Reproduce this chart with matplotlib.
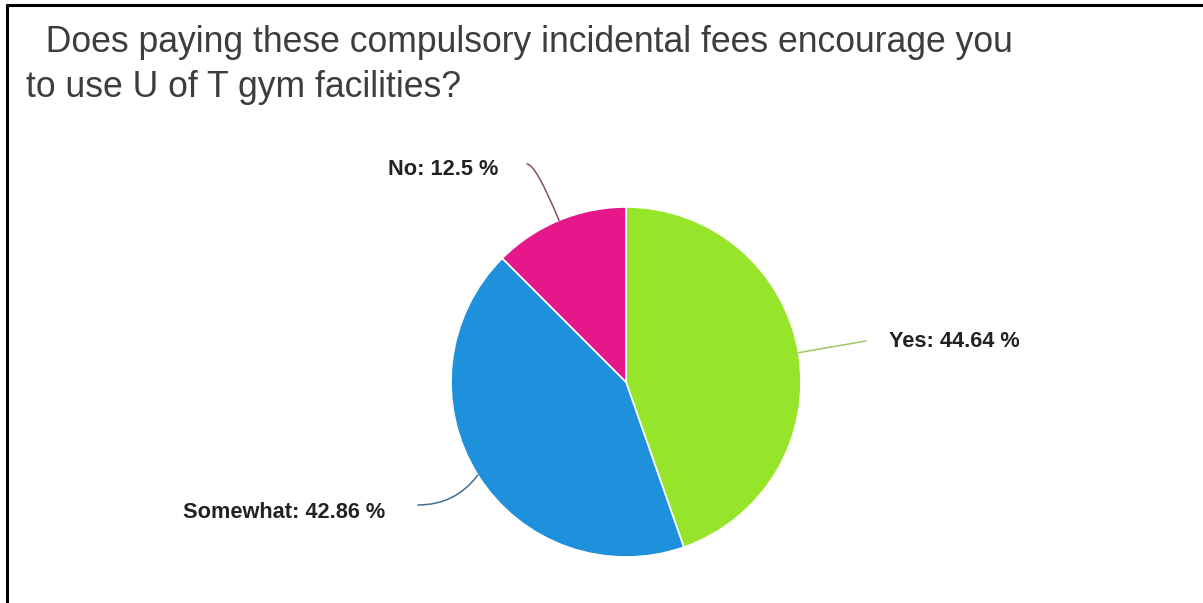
import numpy as np
import matplotlib
matplotlib.use("Agg")
from matplotlib import pyplot as plt

# Survey answers (percent of respondents)
answers = ["Yes", "Somewhat", "No"]
shares = [44.64, 42.86, 12.5]
slice_colors = ["#97e52b", "#1e90dc", "#e6178a"]
line_colors = ["#a3c464", "#3f6f93", "#8e4a6e"]

title_lines = ["  Does paying these compulsory incidental fees encourage you",
               "to use U of T gym facilities?"]

W, H = 1203, 603
fig = plt.figure(figsize=(W / 100, H / 100), dpi=100)
fig.patch.set_facecolor("white")
ax = fig.add_axes([0, 0, 1, 1])
ax.set_xlim(0, W)
ax.set_ylim(0, H)
ax.axis("off")

# pie, starting at 12 o'clock and going clockwise
cx, cy, r = 626, H - 382, 175
wedges, _ = ax.pie(shares, colors=slice_colors, startangle=90, counterclock=False,
                   center=(cx, cy), radius=r,
                   wedgeprops=dict(edgecolor="white", linewidth=1.2))
ax.set_xlim(0, W)
ax.set_ylim(0, H)

# leader line end (relative to pie centre), connection style and label placement
line_ends = [(240, 41), (-208, -123), (-99, 218)]
label_offsets = [(263, 35), (-241, -136), (-128, 207)]
label_ha = ["left", "right", "right"]

for w, name, val, lc, le, lo, ha in zip(wedges, answers, shares, line_colors,
                                         line_ends, label_offsets, label_ha):
    mid_deg = (w.theta1 + w.theta2) / 2
    mid = np.deg2rad(mid_deg)
    edge = (cx + r * np.cos(mid), cy + r * np.sin(mid))
    if name == "Yes":
        conn = "arc3,rad=0"
    elif name == "Somewhat":
        conn = "arc3,rad=0.25"
    else:
        conn = "angle3,angleA=0,angleB=%.2f" % mid_deg
    ax.annotate("", xy=edge, xytext=(cx + le[0], cy + le[1]),
                arrowprops=dict(arrowstyle="-", color=lc, lw=1.1,
                                shrinkA=0, shrinkB=0, connectionstyle=conn))
    ax.text(cx + lo[0], cy + lo[1], "%s: %s %%" % (name, val), ha=ha, va="baseline",
            fontsize=15.7, fontweight="bold", color="#222222",
            family="Liberation Sans")

# title
ax.text(26, H - 52, title_lines[0], fontsize=25.6, color="#3d3d3d",
        family="Liberation Sans", va="baseline")
ax.text(26, H - 97, title_lines[1], fontsize=25.6, color="#3d3d3d",
        family="Liberation Sans", va="baseline")

# frame on top and left
ax.plot([6.5, 6.5], [0, H - 3.5], color="black", lw=2.2, solid_capstyle="butt")
ax.plot([5.5, W], [H - 5, H - 5], color="black", lw=2.2, solid_capstyle="butt")

fig.savefig("out.png", dpi=100, facecolor="white")
